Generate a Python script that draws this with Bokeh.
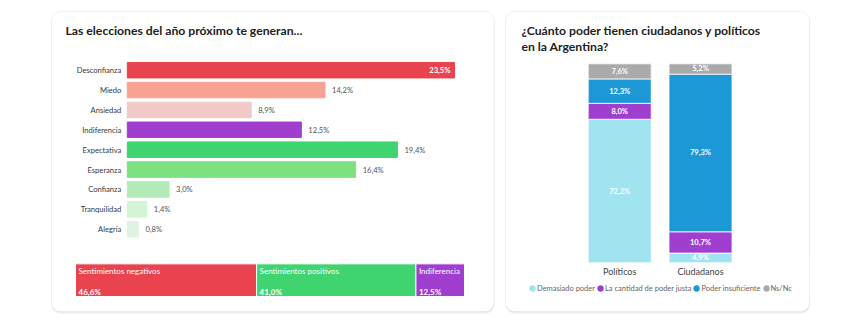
from bokeh.plotting import figure
from bokeh.models import (ColumnDataSource, Range1d, BoxAnnotation, Label, Legend, LegendItem)
from bokeh.layouts import row
from bokeh.embed import file_html
from bokeh.resources import INLINE
from bokeh.core.properties import value

# ---------------- DATA ----------------
left_title = "Las elecciones del año próximo te generan..."
emotions = ["Desconfianza", "Miedo", "Ansiedad", "Indiferencia", "Expectativa",
            "Esperanza", "Confianza", "Tranquilidad", "Alegría"]
emotion_vals = [23.5, 14.2, 8.9, 12.5, 19.4, 16.4, 3.0, 1.4, 0.8]
emotion_colors = ["#e9434f", "#f8a294", "#f1c9c7", "#a03ecf", "#3fd46f",
                  "#7ee283", "#b2ebb7", "#d3f4d5", "#e0f2e2"]

groups = ["Sentimientos negativos", "Sentimientos positivos", "Indiferencia"]
group_vals = [46.6, 41.0, 12.5]
group_colors = ["#e9434f", "#3fd46f", "#a03ecf"]

right_title = ["¿Cuánto poder tienen ciudadanos y políticos", "en la Argentina?"]
actors = ["Políticos", "Ciudadanos"]
series = ["Demasiado poder", "La cantidad de poder justa", "Poder insuficiente", "Ns/Nc"]
politicos = [72.2, 8.0, 12.3, 7.6]
ciudadanos = [4.9, 10.7, 79.3, 5.2]
series_colors = ["#9fe4ef", "#a03ecf", "#1b98d5", "#aaaaaa"]

FONT = "Lato"

def fmt(v):
    return f"{v:.1f}".replace(".", ",") + "%"

# ---------------- LEFT CARD ----------------
LW, LH = 499, 323
LXS = 327.2 / 23.5          # px per unit
LX0 = -126.8 / LXS
PXS = 389.0 / 100.1
PX0 = -75.0 / PXS
LYS = 19.87
LYT = 69.7 / LYS

def lx(px): return LX0 + px / LXS
def ly(py): return LYT - py / LYS

pl = figure(width=LW, height=LH, output_backend="svg", toolbar_location=None,
            x_range=Range1d(LX0, LX0 + LW / LXS), y_range=Range1d(LYT - LH / LYS, LYT),
            min_border=0, min_border_left=0, min_border_right=0, min_border_top=0,
            min_border_bottom=0)
pl.extra_x_ranges = {"pct": Range1d(PX0, PX0 + LW / PXS)}
pl.axis.visible = False
pl.grid.visible = False
pl.outline_line_color = None
pl.background_fill_color = "white"
pl.border_fill_color = "white"

pl.add_layout(BoxAnnotation(left=lx(51), right=lx(494), top=ly(13), bottom=ly(313),
                            fill_color="#8a96a8", fill_alpha=0.18, line_color=None,
                            border_radius=9, level="underlay"))
pl.add_layout(BoxAnnotation(left=lx(51), right=lx(493.5), top=ly(11), bottom=ly(311),
                            fill_color="white", fill_alpha=1, line_color="#cdd5e0",
                            line_width=1, border_radius=9, level="underlay"))

pl.add_layout(Label(x=lx(65), y=ly(30), text=left_title, text_font=FONT,
                    text_font_size="12.2px", text_font_style="bold", text_color="#222222",
                    text_baseline="middle"))

rows = [-i for i in range(len(emotions))]
maxv = max(emotion_vals)
src = ColumnDataSource(dict(y=rows, v=emotion_vals, c=emotion_colors, name=emotions,
                            lab=[fmt(v) for v in emotion_vals]))
pl.hbar(y="y", left=0, right="v", height=0.78, color="c", source=src)
pl.text(x=0, y="y", text="name", source=src, x_offset=-6, text_align="right",
        text_baseline="middle", text_font=value(FONT), text_font_size="7.6px",
        text_color="#3a3a3a")
out_src = ColumnDataSource(dict(
    y=[r for r, v in zip(rows, emotion_vals) if v != maxv],
    v=[v for v in emotion_vals if v != maxv],
    lab=[fmt(v) for v in emotion_vals if v != maxv]))
in_src = ColumnDataSource(dict(
    y=[r for r, v in zip(rows, emotion_vals) if v == maxv],
    v=[v for v in emotion_vals if v == maxv],
    lab=[fmt(v) for v in emotion_vals if v == maxv]))
pl.text(x="v", y="y", text="lab", source=out_src, x_offset=7, text_align="left",
        text_baseline="middle", text_font=value(FONT), text_font_size="7.6px",
        text_color="#555555")
pl.text(x="v", y="y", text="lab", source=in_src, x_offset=-4, text_align="right",
        text_baseline="middle", text_font=value(FONT), text_font_size="7.6px",
        text_font_style="bold", text_color="white")

# summary stacked bar
lefts, acc = [], 0.0
for v in group_vals:
    lefts.append(acc)
    acc += v
rights = [l + v for l, v in zip(lefts, group_vals)]
ycen = ly(279.7)
gsrc = ColumnDataSource(dict(l=lefts, r=rights, c=group_colors, name=groups,
                             lab=[fmt(v) for v in group_vals],
                             yc=[ycen] * 3, yn=[ly(270.5)] * 3, yv=[ly(291.5)] * 3))
pl.hbar(y="yc", left="l", right="r", height=32.7 / LYS, color="c", line_color="white",
        line_width=1, source=gsrc, x_range_name="pct")
pl.text(x="l", y="yn", text="name", source=gsrc, x_range_name="pct", x_offset=3,
        text_baseline="middle", text_font=value(FONT), text_font_size="8px",
        text_color="white")
pl.text(x="l", y="yv", text="lab", source=gsrc, x_range_name="pct", x_offset=3,
        text_baseline="middle", text_font=value(FONT), text_font_size="8px",
        text_font_style="bold", text_color="white")

# ---------------- RIGHT CARD ----------------
RW, RH = 363, 323
ROX = 499
RXS = 80.8
RX0 = -(619.2 - ROX) / RXS
RYS = 199.0 / 100.1
RY0 = -(323 - 262.3) / RYS

def rx(px): return RX0 + (px - ROX) / RXS
def ry(py): return RY0 + (323 - py) / RYS

pr = figure(width=RW, height=RH, output_backend="svg", toolbar_location=None,
            x_range=Range1d(RX0, RX0 + RW / RXS), y_range=Range1d(RY0, RY0 + RH / RYS),
            min_border=0, min_border_left=0, min_border_right=0, min_border_top=0,
            min_border_bottom=0)
pr.axis.visible = False
pr.grid.visible = False
pr.outline_line_color = None
pr.background_fill_color = "white"
pr.border_fill_color = "white"

pr.add_layout(BoxAnnotation(left=rx(505), right=rx(809.5), top=ry(13), bottom=ry(313),
                            fill_color="#8a96a8", fill_alpha=0.18, line_color=None,
                            border_radius=9, level="underlay"))
pr.add_layout(BoxAnnotation(left=rx(505), right=rx(809), top=ry(11), bottom=ry(311),
                            fill_color="white", fill_alpha=1, line_color="#cdd5e0",
                            line_width=1, border_radius=9, level="underlay"))
for i, t in enumerate(right_title):
    pr.add_layout(Label(x=rx(521), y=ry(29.5 + 16.5 * i), text=t, text_font=FONT,
                        text_font_size="12.2px", text_font_style="bold",
                        text_color="#222222", text_baseline="middle"))

xs = list(range(len(actors)))
keys = ["s%d" % i for i in range(len(series))]
data = dict(x=xs)
for k, a, b in zip(keys, politicos, ciudadanos):
    data[k] = [a, b]
ssrc = ColumnDataSource(data)
rends = pr.vbar_stack(keys, x="x", width=63 / RXS, color=series_colors, source=ssrc,
                      line_color="white", line_width=0.8)

lx_, ly_, lt_ = [], [], []
for j, vals in enumerate([politicos, ciudadanos]):
    acc = 0.0
    for v in vals:
        lx_.append(xs[j]); ly_.append(acc + v / 2); lt_.append(fmt(v))
        acc += v
pr.text(x=lx_, y=ly_, text=lt_, text_align="center", text_baseline="middle",
        text_font=value(FONT), text_font_size="7.5px", text_font_style="bold",
        text_color="white")
pr.text(x=xs, y=[0, 0], text=actors, y_offset=9, text_align="center",
        text_baseline="middle", text_font=value(FONT), text_font_size="9px",
        text_color="#444444")

# legend proxies (not drawn: NaN position), only used for the legend swatches
nan = float("nan")
dummies = [pr.scatter(x=[nan], y=[nan], marker="circle", fill_color=c, line_color=c,
                      line_width=2.4, size=7)
           for c in series_colors]
legend = Legend(items=[LegendItem(label=s, renderers=[r]) for s, r in zip(series, dummies)],
                orientation="horizontal", location=(28, 30), label_text_font=FONT,
                label_text_font_size="7.5px", label_text_color="#666666",
                glyph_width=10, glyph_height=10, label_standoff=0, spacing=0,
                padding=0, margin=0, border_line_alpha=0, background_fill_alpha=0,
                label_height=10)
pr.add_layout(legend)

layout = row(pl, pr)
open("out.html", "w").write(file_html(layout, INLINE))
